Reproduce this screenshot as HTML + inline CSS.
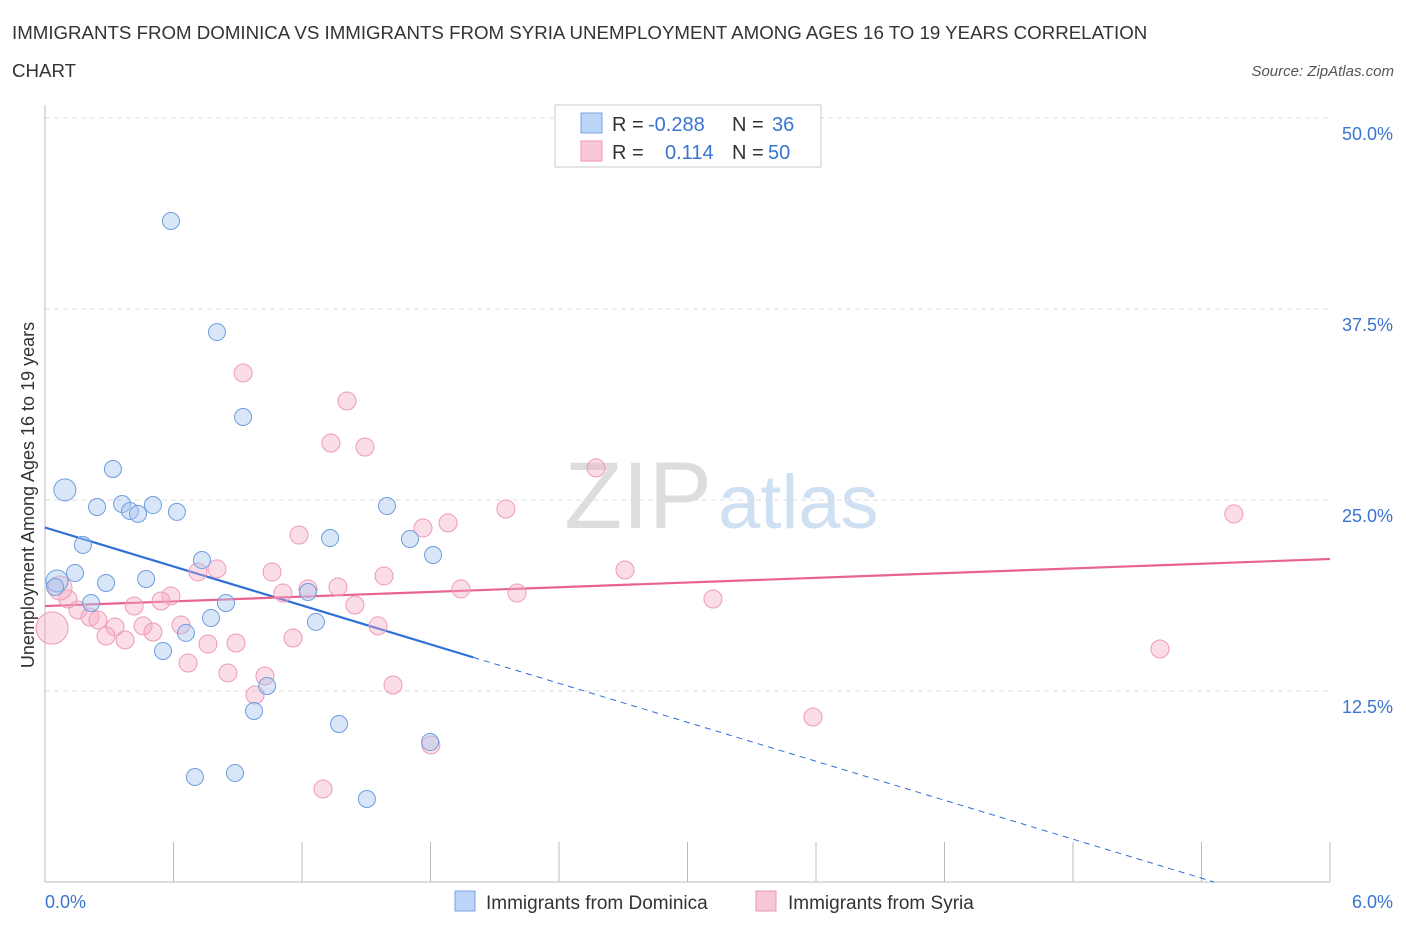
<!DOCTYPE html>
<html><head><meta charset="utf-8"><style>
body{margin:0;background:#fff;font-family:"Liberation Sans",sans-serif;}
svg text{font-family:"Liberation Sans",sans-serif;}
</style></head><body>
<svg id="chart" width="1406" height="930">
<text x="12" y="39" font-size="18.7" fill="#333">IMMIGRANTS FROM DOMINICA VS IMMIGRANTS FROM SYRIA UNEMPLOYMENT AMONG AGES 16 TO 19 YEARS CORRELATION</text>
<text x="12" y="77" font-size="18.7" fill="#333">CHART</text>
<text x="1394" y="76" font-size="15" fill="#555" font-style="italic" text-anchor="end">Source: ZipAtlas.com</text>
<text x="712" y="528" font-size="95" fill="#ddd" text-anchor="end" font-family="Liberation Serif">ZIP</text>
<text x="718" y="528" font-size="76" fill="#cfe0f3">atlas</text>
<g id="grid"></g><g id="trend"></g><g id="pts"></g>
<text transform="translate(34,495) rotate(-90)" font-size="18" fill="#333" text-anchor="middle">Unemployment Among Ages 16 to 19 years</text>
<text x="45" y="908" font-size="18" fill="#3a74d0">0.0%</text>
<text x="1393" y="908" font-size="18" fill="#3a74d0" text-anchor="end">6.0%</text>
<g>
<rect x="555" y="105" width="266" height="62" fill="#fff" stroke="#ccc"/>
<rect x="581" y="113" width="21" height="20" fill="#bcd4f7" stroke="#7aa6e6"/>
<rect x="581" y="141" width="21" height="20" fill="#f9c8d7" stroke="#ee94b1"/>
<text x="612" y="131" font-size="20" fill="#333">R = </text><text x="648" y="131" font-size="20" fill="#3a74d0">-0.288</text>
<text x="732" y="131" font-size="20" fill="#333">N = </text><text x="772" y="131" font-size="20" fill="#3a74d0">36</text>
<text x="612" y="159" font-size="20" fill="#333">R = </text><text x="665" y="159" font-size="20" fill="#3a74d0">0.114</text>
<text x="732" y="159" font-size="20" fill="#333">N = </text><text x="768" y="159" font-size="20" fill="#3a74d0">50</text>
</g>
<g><rect x="455" y="891" width="20" height="20" fill="#bcd4f7" stroke="#7aa6e6"/><text x="486" y="909" font-size="19" fill="#333">Immigrants from Dominica</text></g>
<g><rect x="756" y="891" width="20" height="20" fill="#f9c8d7" stroke="#ee94b1"/><text x="788" y="909" font-size="19" fill="#333">Immigrants from Syria</text></g>
</svg>
<script>
const yTicks=[12.5,25,37.5,50];
const yTickLabels=["12.5%","25.0%","37.5%","50.0%"];
const xTicks=[0,0.6,1.2,1.8,2.4,3,3.6,4.2,4.8,5.4,6];
const domX=[0.588,0.803,0.925,0.317,0.093,0.243,0.360,0.397,0.434,0.504,0.616,1.597,0.177,0.733,0.140,0.285,0.472,0.056,0.047,0.215,0.845,0.775,1.228,1.331,1.704,1.812,1.265,0.658,0.551,1.037,0.976,1.373,1.798,0.700,0.887,1.503];
const domY=[43.26,35.99,30.43,27.03,25.66,24.54,24.74,24.28,24.09,24.67,24.22,24.61,22.06,21.07,20.22,19.57,19.83,19.70,19.31,18.26,18.26,17.28,18.98,22.51,22.45,21.40,17.02,16.30,15.12,12.83,11.19,10.34,9.16,6.87,7.13,5.43];
const syrX=[0.925,1.410,1.335,1.494,2.573,2.152,1.882,1.765,1.186,5.551,2.708,0.803,0.714,1.060,1.583,1.368,1.228,1.111,1.942,2.204,3.119,0.588,0.542,0.416,1.447,0.107,0.070,0.154,0.210,0.247,0.327,0.458,0.504,0.635,0.285,0.374,0.761,0.892,1.158,1.555,0.668,0.854,1.027,0.981,1.625,5.206,3.586,1.802,1.298,0.033];
const syrY=[33.31,31.48,28.73,28.47,27.10,24.41,23.50,23.17,22.71,24.09,20.42,20.49,20.29,20.29,20.03,19.31,19.18,18.91,19.18,18.91,18.52,18.72,18.39,18.06,18.13,18.52,19.24,17.80,17.34,17.15,16.69,16.76,16.36,16.82,16.10,15.84,15.58,15.64,15.97,16.76,14.33,13.68,13.48,12.24,12.89,15.25,10.80,8.97,6.09,16.62];
const domTrend=[23.2,-4.25];
const syrTrend=[18.06,0.513];
const NS="http://www.w3.org/2000/svg";
const X=v=>45+v/6*1285, Y=v=>882-v/12.5*191;
function mk(tag,attrs,parent){const e=document.createElementNS(NS,tag);for(const k in attrs)e.setAttribute(k,attrs[k]);document.getElementById(parent).appendChild(e);return e;}
yTicks.forEach((t,i)=>{
  const l=mk('line',{x1:45,x2:1330,y1:Y(t),y2:Y(t),stroke:'#ddd','stroke-dasharray':'5,4'},'grid');
  
  
  const tx=mk('text',{x:1393,y:Y(t)+22,'font-size':18,fill:'#3a74d0','text-anchor':'end'},'grid');
  tx.textContent=yTickLabels[i];
  
  
});
mk('line',{x1:45,x2:45,y1:105,y2:882,stroke:'#bbb'},'grid');
mk('line',{x1:45,x2:1330,y1:882,y2:882,stroke:'#bbb'},'grid');
xTicks.forEach(t=>{
  const l=mk('line',{x1:X(t),x2:X(t),y1:842,y2:882,stroke:'#bbb'},'grid');
  
  
});
const bEnd=2.0, bZero=-domTrend[0]/domTrend[1];
let t1=mk('line',{x1:X(0),y1:Y(domTrend[0]),x2:X(bEnd),y2:Y(domTrend[0]+domTrend[1]*bEnd),stroke:'#2f6fd6','stroke-width':2.2},'trend');


let t2=mk('line',{x1:X(bEnd),y1:Y(domTrend[0]+domTrend[1]*bEnd),x2:X(bZero),y2:Y(0),stroke:'#2f6fd6','stroke-width':1,'stroke-dasharray':'6,5'},'trend');


let t3=mk('line',{x1:X(0),y1:Y(syrTrend[0]),x2:X(6),y2:Y(syrTrend[0]+syrTrend[1]*6),stroke:'#e8638f','stroke-width':2.2},'trend');


syrX.forEach((x,i)=>{
  const r=i===syrX.length-1?16:(i===26?12:9);
  const c=mk('circle',{cx:X(x),cy:Y(syrY[i]),r:r,fill:'rgba(246,170,195,0.4)',stroke:'#ef9ab6','stroke-width':1},'pts');
  
  
});
domX.forEach((x,i)=>{
  const r=(i===4||i===17)?11:8.5;
  const c=mk('circle',{cx:X(x),cy:Y(domY[i]),r:r,fill:'rgba(170,200,240,0.45)',stroke:'#6f9edf','stroke-width':1},'pts');
  
  
});
</script>
</body></html>
